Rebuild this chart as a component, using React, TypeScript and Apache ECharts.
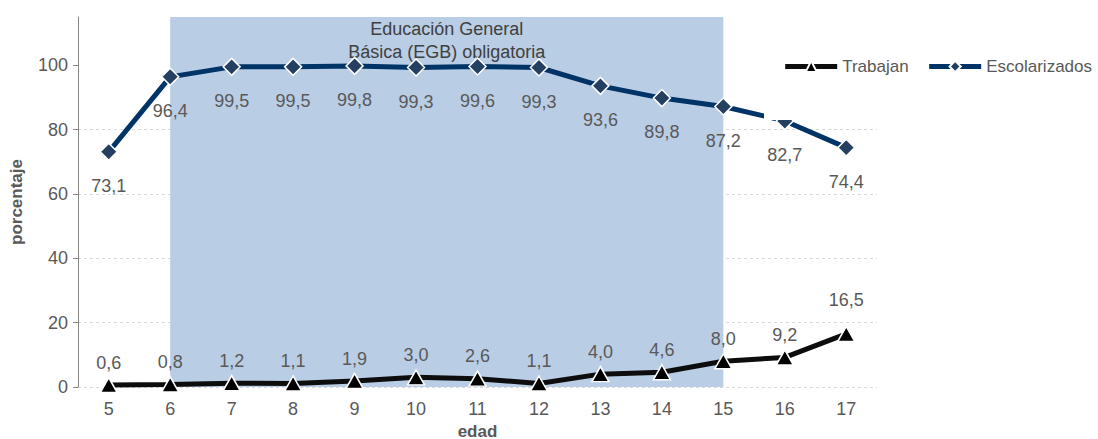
import React, { useEffect, useRef } from "react";
import * as echarts from "echarts";

// Edad (años)
const ages = ["5", "6", "7", "8", "9", "10", "11", "12", "13", "14", "15", "16", "17"];
// Porcentaje de niños que trabajan
const trabajan = [0.6, 0.8, 1.2, 1.1, 1.9, 3.0, 2.6, 1.1, 4.0, 4.6, 8.0, 9.2, 16.5];
// Porcentaje de niños escolarizados
const escolarizados = [73.1, 96.4, 99.5, 99.5, 99.8, 99.3, 99.6, 99.3, 93.6, 89.8, 87.2, 82.7, 74.4];
// Marcas del eje Y
const yTicks = [0, 20, 40, 60, 80, 100];
// Tramo de la EGB obligatoria
const egbStart = "6";
const egbEnd = "15";
const egbLabel = "Educación General\nBásica (EGB) obligatoria";

const FONT = "'Liberation Sans', Arial, sans-serif";
const GRAY = "#595959";

const fmt = (v: number) => v.toFixed(1).replace(".", ",");

export default function App() {
  const ref = useRef<HTMLDivElement>(null);

  useEffect(() => {
    if (!ref.current) return;
    const chart = echarts.init(ref.current, undefined, { renderer: "svg" });

    const trabajanData = trabajan.map((v, i) =>
      i === trabajan.length - 1 ? { value: v, label: { distance: 17 } } : v
    );

    chart.setOption({
      animation: false,
      textStyle: { fontFamily: FONT },
      grid: { left: 78, right: 221, top: 17, bottom: 52, outerBoundsMode: "none", containLabel: false },
      // white box behind the legend, laid over the plot
      graphic: [
        {
          type: "rect",
          z: 50,
          shape: { x: 764, y: 10, width: 334, height: 110 },
          style: { fill: "#ffffff" },
          silent: true,
        },
      ],
      legend: {
        right: 6,
        top: 58,
        z: 60,
        padding: 0,
        itemWidth: 52,
        itemHeight: 14,
        itemGap: 18,
        lineStyle: { width: 5 },
        textStyle: { fontFamily: FONT, fontSize: 17, color: GRAY },
        data: ["Trabajan", "Escolarizados"],
      },
      xAxis: {
        type: "category",
        data: ages,
        boundaryGap: true,
        name: "edad",
        nameLocation: "middle",
        nameGap: 36,
        nameMoveOverlap: false,
        nameTextStyle: { fontFamily: FONT, fontSize: 17, lineHeight: 17, fontWeight: "bold", color: GRAY },
        axisLine: { show: false },
        axisTick: { show: false },
        axisLabel: { fontFamily: FONT, fontSize: 18, color: GRAY, margin: 13 },
      },
      yAxis: {
        type: "value",
        min: 0,
        max: 115,
        interval: 20,
        name: "porcentaje",
        nameLocation: "middle",
        nameGap: 53,
        nameTextStyle: { fontFamily: FONT, fontSize: 17, fontWeight: "bold", color: GRAY },
        axisLine: { show: true, lineStyle: { color: "#868686", width: 1 } },
        axisTick: { show: true, length: 5, lineStyle: { color: "#868686" }, customValues: yTicks },
        axisLabel: { fontFamily: FONT, fontSize: 18, color: GRAY, margin: 10, customValues: yTicks },
        splitLine: { showMaxLine: false, lineStyle: { color: "#d9d9d9", type: [3, 3], width: 1 } },
      },
      series: [
        {
          name: "Trabajan",
          type: "line",
          data: trabajanData,
          symbol: "triangle",
          symbolSize: [17, 15],
          itemStyle: { color: "#000000", borderColor: "#ffffff", borderWidth: 1.5 },
          lineStyle: { color: "#0d0d0d", width: 5 },
          label: {
            show: true,
            position: "top",
            distance: 5,
            fontFamily: FONT,
            fontSize: 18,
            color: GRAY,
            formatter: (p: any) => fmt(p.value),
          },
          markArea: {
            silent: true,
            itemStyle: { color: "#b9cde5" },
            label: {
              show: true,
              position: "insideTop",
              distance: 0,
              fontFamily: FONT,
              fontSize: 18,
              lineHeight: 23,
              color: "#404040",
              formatter: egbLabel,
            },
            data: [[{ xAxis: egbStart }, { xAxis: egbEnd }]],
          },
          z: 3,
        },
        {
          name: "Escolarizados",
          type: "line",
          data: escolarizados,
          symbol: "diamond",
          symbolSize: 17,
          itemStyle: { color: "#243f60", borderColor: "#ffffff", borderWidth: 1.5 },
          lineStyle: { color: "#003366", width: 5 },
          label: {
            show: true,
            position: "bottom",
            distance: 16,
            fontFamily: FONT,
            fontSize: 18,
            color: GRAY,
            formatter: (p: any) => fmt(p.value),
          },
          z: 3,
        },
      ],
    });

    return () => chart.dispose();
  }, []);

  return (
    <div
      ref={ref}
      style={{ position: "fixed", left: 0, top: 0, width: 1098, height: 439, background: "#ffffff" }}
    />
  );
}
